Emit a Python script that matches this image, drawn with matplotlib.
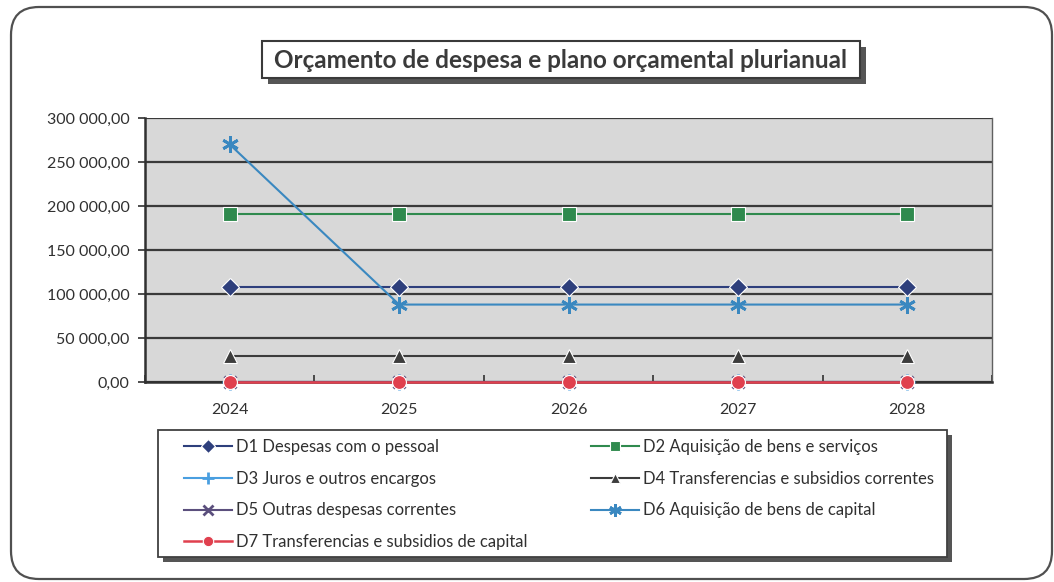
import matplotlib
matplotlib.use("Agg")
import matplotlib.pyplot as plt
from matplotlib.patches import FancyBboxPatch, Rectangle
from matplotlib.ticker import FuncFormatter, FixedLocator
from matplotlib.transforms import IdentityTransform

plt.rcParams['font.family'] = ['Lato', 'DejaVu Sans']

years = ["2024", "2025", "2026", "2027", "2028"]
d1 = [108000, 108000, 108000, 108000, 108000]
d2 = [191000, 191000, 191000, 191000, 191000]
d3 = [0, 0, 0, 0, 0]
d4 = [30000, 30000, 30000, 30000, 30000]
d5 = [0, 0, 0, 0, 0]
d6 = [270000, 88000, 88000, 88000, 88000]
d7 = [0, 0, 0, 0, 0]
labels = ["D1 Despesas com o pessoal",
          "D2 Aquisição de bens e serviços",
          "D3 Juros e outros encargos",
          "D4 Transferencias e subsidios correntes",
          "D5 Outras despesas correntes",
          "D6 Aquisição de bens de capital",
          "D7 Transferencias e subsidios de capital"]
title = "Orçamento de despesa e plano orçamental plurianual"

W, H = 1054, 582
fig = plt.figure(figsize=(W / 100, H / 100), dpi=100)
fig.patch.set_facecolor("white")
ID = IdentityTransform()

def rect(x0, ytop, x1, ybot, **kw):
    """Rectangle given in top-left pixel coordinates."""
    r = Rectangle((x0, H - ybot), x1 - x0, ybot - ytop, transform=ID, **kw)
    fig.patches.append(r)
    return r

# outer rounded frame
frame = FancyBboxPatch((11, 3), 1041, 572, boxstyle="round,pad=0,rounding_size=28",
                       transform=ID, facecolor="none",
                       edgecolor="#505050", linewidth=1.6, zorder=-1)
fig.patches.append(frame)

ax = fig.add_axes([145 / W, 1 - 382 / H, 847 / W, 264 / H])
ax.set_facecolor("#d8d8d8")
ax.set_zorder(2)
x = list(range(len(years)))

series = [
    (d1, "#2E3F7C", "D", 9, 1.5),
    (d2, "#2F8A4E", "s", 10, 1.5),
    (d3, "#4A9FE0", "+", 11, 1.5),
    (d4, "#3C3C3C", "^", 10, 1.5),
    (d5, "#5B4F7D", "x", 9, 1.5),
    (d6, "#3A88C0", (6, 2, 0), 12, 1.5),
    (d7, "#E0404E", "o", 10, 1.8),
]
handles = []
for (vals, col, mk, ms, lw), lab in zip(series, labels):
    thin = mk in ("+", "x", (6, 2, 0))
    h, = ax.plot(x, vals, color=col, marker=mk, markersize=ms, linewidth=lw,
                 markeredgecolor=col if thin else "white",
                 markeredgewidth=2 if thin else 0.8,
                 label=lab, zorder=3, clip_on=False)
    handles.append(h)

ax.set_xlim(-0.5, 4.5)
ax.set_ylim(0, 300000)
ax.yaxis.set_major_locator(FixedLocator(range(0, 300001, 50000)))
ax.yaxis.set_major_formatter(FuncFormatter(
    lambda v, p: f"{v:,.2f}".replace(",", " ").replace(".", ",")))
ax.set_xticks(x)
ax.set_xticklabels(years)
ax.set_xticks([i + 0.5 for i in range(-1, 5)], minor=True)
ax.tick_params(axis="x", which="major", length=0, labelsize=11.5, pad=15, colors="#303030")
ax.tick_params(axis="x", which="minor", length=5, direction="in", color="#303030", width=1.2)
ax.tick_params(axis="y", length=5, direction="out", labelsize=11.5, pad=6,
               color="#303030", width=1.2, labelcolor="#303030")
ax.grid(axis="y", color="#3a3a3a", linewidth=1.6, zorder=1)
ax.set_axisbelow(True)
for s in ["left", "bottom"]:
    ax.spines[s].set_color("#303030")
    ax.spines[s].set_linewidth(1.8)
ax.spines["top"].set_visible(False)
ax.spines["right"].set_color("#606060")
ax.spines["right"].set_linewidth(1.0)

# legend box with shadow (drawn manually)
rect(163, 435, 952, 562, facecolor="#555555", edgecolor="none", zorder=3)
rect(158, 430, 947, 557, facecolor="white", edgecolor="#404040", linewidth=1.3, zorder=4)

order = [0, 2, 4, 6, 1, 3, 5]
leg = fig.legend([handles[i] for i in order], [labels[i] for i in order],
                 loc="center", ncol=2,
                 bbox_to_anchor=(184 / W, 1 - 558 / H, (934 - 184) / W, 127 / H),
                 mode="expand", borderaxespad=0, fontsize=12,
                 handlelength=2.9, handletextpad=0.25, labelspacing=0.95,
                 borderpad=0.0, frameon=False, markerscale=0.75)
leg.set_zorder(5)
for t in leg.get_texts():
    t.set_color("#303030")

# title with shadow
rect(268, 47, 866, 84, facecolor="#555555", edgecolor="none", zorder=5)
rect(262, 41, 860, 78, facecolor="white", edgecolor="#3a3a3a", linewidth=1.5, zorder=6)
fig.text(561 / W, 1 - 60 / H, title, ha="center", va="center",
         fontsize=17.5, fontweight="bold", color="#3a3a3a", zorder=7)

fig.savefig("out.png", dpi=100)
